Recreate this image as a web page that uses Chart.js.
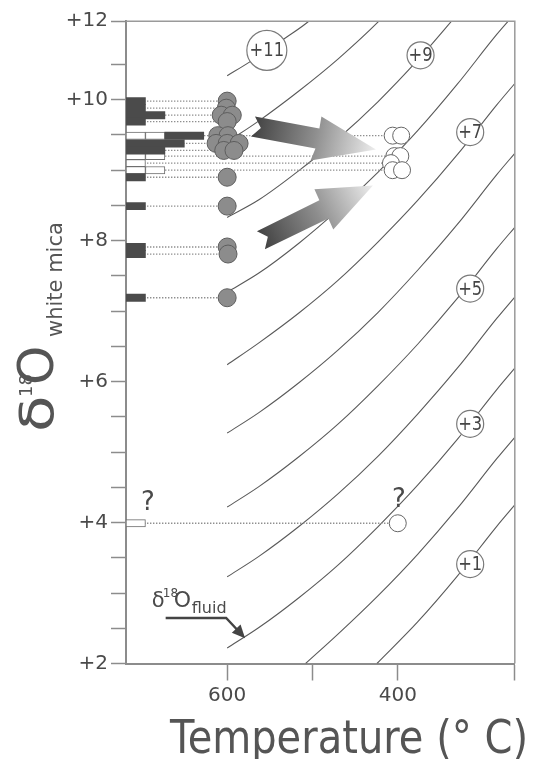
<!DOCTYPE html>
<html>
<head>
<meta charset="utf-8">
<script src="https://cdn.jsdelivr.net/npm/chart.js@4.4.1/dist/chart.umd.min.js"></script>
<style>
html,body{margin:0;padding:0;background:#fff;}
canvas{display:block;}
</style>
</head>
<body>
<canvas id="c" width="536" height="759"></canvas>
<script>
// ---------- axes ----------
const T_MAX = 718.6, T_MIN = 262.8;      // temperature (°C), reversed axis
const D_MIN = 2, D_TOP = 11.114;         // δ18O white mica
const xTickValues = [600, 500, 400, 262.8];
const xTickLabels = ['600', '', '400', ''];
const yTickValues = [2, 2.5, 3, 3.5, 4, 4.5, 5, 5.5, 6, 6.5, 7, 7.5, 8, 8.5, 9, 9.5, 10, 10.5, 11.114];
const yTickLabels = ['+2', '', '', '', '+4', '', '', '', '+6', '', '', '', '+8', '', '', '', '+10', '', '+12'];

// ---------- histogram (bins of δ18O, counts) ----------
const binD      = [9.98, 9.88, 9.78, 9.69, 9.49, 9.38, 9.28, 9.20, 9.10, 9.00, 8.90, 8.49, 7.91, 7.81, 7.19, 3.99];
const darkCount = [1, 1, 2, 1, 2, 3, 2, 0, 0, 0, 1, 1, 1, 1, 1, 0];
const whiteCount= [0, 0, 0, 0, 2, 0, 0, 2, 1, 2, 0, 0, 0, 0, 0, 1];
const COUNT_MAX = 20;
const GRAY_T = 600, WHITE_T = 400;

// ---------- samples ----------
const grayT = [600, 601, 607, 594, 600, 611, 599, 613, 600, 586, 604, 592, 600, 600, 600, 599, 600];
const grayD = [9.98, 9.88, 9.78, 9.78, 9.69, 9.49, 9.49, 9.38, 9.38, 9.38, 9.28, 9.28, 8.90, 8.49, 7.91, 7.81, 7.19];
const whiteT = [406, 396, 404, 397, 408, 406, 395, 400];
const whiteD = [9.49, 9.49, 9.20, 9.20, 9.10, 9.00, 9.00, 3.99];

// ---------- δ18O fluid isopleths ----------
const c1T = [424.4, 376.7, 330.2, 283.7, 262.8];
const c1D = [2.0, 2.59, 3.24, 3.95, 4.25];
const c2T = [508, 469.8, 423.3, 376.7, 330.2, 283.7, 262.8];
const c2D = [2.0, 2.42, 2.96, 3.55, 4.20, 4.91, 5.21];
const gridT = [600, 562.8, 516.3, 469.8, 423.3, 376.7, 330.2, 283.7, 262.8];
const c3D = [2.22, 2.51, 2.93, 3.40, 3.94, 4.53, 5.18, 5.89, 6.19];
const c4D = [3.23, 3.52, 3.94, 4.41, 4.94, 5.54, 6.19, 6.90, 7.20];
const c5D = [4.22, 4.51, 4.93, 5.40, 5.94, 6.53, 7.18, 7.89, 8.19];
const c6D = [5.27, 5.56, 5.98, 6.45, 6.98, 7.58, 8.23, 8.94, 9.24];
const c7D = [6.24, 6.55, 6.97, 7.44, 7.98, 8.57, 9.22, 9.93, 10.23];
const c8D = [7.27, 7.54, 7.96, 8.44, 8.97, 9.56, 10.22, 10.93, 11.22];
const c9T = [600, 562.8, 516.3, 469.8, 423.3, 376.7, 330.2];
const c9D = [8.33, 8.58, 8.99, 9.45, 9.97, 10.56, 11.21];
const c10T = [600, 562.8, 516.3, 469.8, 423.3, 376.7];
const c10D = [9.40, 9.70, 10.12, 10.58, 11.10, 11.70];
const c11T = [600, 574.4, 531.4, 504.7, 480];
const c11D = [10.34, 10.53, 10.88, 11.11, 11.40];

// isopleth labels
const labelText = ['+11', '+9', '+7', '+5', '+3', '+1'];
const labelT = [553.5, 373.3, 315.1, 315.1, 315.1, 315.1];
const labelD = [10.70, 10.63, 9.54, 7.32, 5.40, 3.41];

// ---------- annotations (data coordinates) ----------
const upperArrowT = [567.4, 560.5, 572.1, 496.5, 502.3, 425.6, 489.5, 491.9];
const upperArrowD = [9.763, 9.600, 9.479, 9.309, 9.139, 9.295, 9.763, 9.593];
const lowerArrowT = [565.1, 552.3, 555.8, 481.4, 475.6, 429.1, 497.7, 491.9];
const lowerArrowD = [8.132, 8.054, 7.877, 8.316, 8.160, 8.784, 8.728, 8.572];
const questionT = [693, 398.8];
const questionD = [4.28, 4.32];
const fluidLabelT = 687.2, fluidLabelD = 2.80;
const fluidArrowT = [672.1, 601.2, 581.4];
const fluidArrowD = [2.645, 2.645, 2.39];

// ---------- build datasets ----------
const pts = (ts, ds) => ts.map((t, i) => ({x: t, y: ds[i]}));
const contourStyle = {
  type: 'line', xAxisID: 'x', yAxisID: 'y', borderColor: '#5a5a5a', borderWidth: 1.1,
  pointRadius: 0, fill: false, cubicInterpolationMode: 'monotone', order: 10
};
const contours = [
  pts(c1T, c1D), pts(c2T, c2D), pts(gridT, c3D), pts(gridT, c4D), pts(gridT, c5D),
  pts(gridT, c6D), pts(gridT, c7D), pts(gridT, c8D), pts(c9T, c9D), pts(c10T, c10D), pts(c11T, c11D)
].map((data, i) => Object.assign({label: 'fluid' + (i + 1), data}, contourStyle));

const guideData = [];
binD.forEach((d, i) => {
  guideData.push({x: T_MAX, y: d});
  guideData.push({x: whiteCount[i] > 0 ? WHITE_T : GRAY_T, y: d});
  guideData.push({x: null, y: null});
});

const darkBars = [];
binD.forEach((d, i) => { if (darkCount[i] > 0) darkBars.push({x: [whiteCount[i], whiteCount[i] + darkCount[i]], y: d}); });
const whiteBars = [];
binD.forEach((d, i) => { for (let k = 0; k < whiteCount[i]; k++) whiteBars.push({x: [k, k + 1], y: d}); });

const datasets = [
  { label: 'labels', type: 'scatter', xAxisID: 'x', yAxisID: 'y', data: pts(labelT, labelD), order: 1,
    pointRadius: c => c.dataIndex === 0 ? 20 : 13.5, pointBackgroundColor: '#ffffff',
    pointBorderColor: '#7a7a7a', pointBorderWidth: 1.2 },
  { label: 'white', type: 'scatter', xAxisID: 'x', yAxisID: 'y', data: pts(whiteT, whiteD), order: 2,
    pointRadius: 8.5, pointBackgroundColor: '#ffffff', pointBorderColor: '#666666', pointBorderWidth: 1 },
  { label: 'gray', type: 'scatter', xAxisID: 'x', yAxisID: 'y', data: pts(grayT, grayD), order: 3,
    pointRadius: 9, pointBackgroundColor: '#8c8c8c', pointBorderColor: '#5e5e5e', pointBorderWidth: 1 },
  { label: 'histDark', type: 'bar', indexAxis: 'y', xAxisID: 'xc', yAxisID: 'y', data: darkBars, order: 7,
    backgroundColor: '#4b4b4b', borderWidth: 0, barThickness: 7.3, grouped: false },
  { label: 'histWhite', type: 'bar', indexAxis: 'y', xAxisID: 'xc', yAxisID: 'y', data: whiteBars, order: 8,
    backgroundColor: '#ffffff', borderColor: '#6e6e6e', borderWidth: 1, borderSkipped: false,
    barThickness: 7.3, grouped: false },
  { label: 'guides', type: 'line', xAxisID: 'x', yAxisID: 'y', data: guideData, order: 9,
    borderColor: '#8f8f8f', borderWidth: 1.3, borderDash: [1.4, 1.6], pointRadius: 0, spanGaps: false, tension: 0 },
  ...contours
];

// ---------- decorations plugin ----------
const PX = (ch, t) => ch.scales.x.getPixelForValue(t);
const PY = (ch, d) => ch.scales.y.getPixelForValue(d);
const FONT = "'DejaVu Sans'";

const decor = {
  id: 'decor',
  afterDatasetDraw(chart, args) {
    if (chart.data.datasets[args.index].label !== 'guides') return;
    const ctx = chart.ctx;
    ctx.save();
    [[upperArrowT, upperArrowD], [lowerArrowT, lowerArrowD]].forEach(([ts, ds]) => {
      const p = ts.map((t, i) => [PX(chart, t), PY(chart, ds[i])]);
      const tail = [(p[0][0] + p[2][0]) / 2, (p[0][1] + p[2][1]) / 2];
      const tip = p[5];
      const g = ctx.createLinearGradient(tail[0], tail[1], tip[0], tip[1]);
      g.addColorStop(0, '#424242');
      g.addColorStop(0.5, '#8e8e8e');
      g.addColorStop(1, '#ededed');
      ctx.beginPath();
      p.forEach((q, i) => i ? ctx.lineTo(q[0], q[1]) : ctx.moveTo(q[0], q[1]));
      ctx.closePath();
      ctx.fillStyle = g;
      ctx.fill();
    });
    ctx.restore();
  },
  afterDatasetsDraw(chart) {
    const ctx = chart.ctx;
    const ca = chart.chartArea;
    ctx.save();
    // frame top/right
    ctx.strokeStyle = '#9a9a9a';
    ctx.lineWidth = 1.5;
    ctx.beginPath();
    ctx.moveTo(ca.left, ca.top); ctx.lineTo(ca.right, ca.top); ctx.lineTo(ca.right, ca.bottom);
    ctx.stroke();

    // isopleth labels
    const lm = chart.getDatasetMeta(chart.data.datasets.findIndex(d => d.label === 'labels'));
    ctx.fillStyle = '#454545';
    ctx.textAlign = 'center';
    ctx.textBaseline = 'middle';
    ctx.font = '19px ' + FONT;
    lm.data.forEach((el, i) => {
      ctx.save();
      ctx.translate(el.x, el.y + 1);
      ctx.scale(0.86, 1);
      ctx.fillText(labelText[i], 0, 0);
      ctx.restore();
    });

    // question marks
    ctx.font = '26px ' + FONT;
    ctx.fillStyle = '#4a4a4a';
    questionT.forEach((t, i) => ctx.fillText('?', PX(chart, t), PY(chart, questionD[i])));

    // δ18O fluid label + arrow
    const ax = PX(chart, fluidLabelT), ay = PY(chart, fluidLabelD);
    ctx.textAlign = 'left';
    ctx.textBaseline = 'alphabetic';
    ctx.fillStyle = '#4a4a4a';
    ctx.font = '21px ' + FONT; ctx.fillText('δ', ax - 1, ay);
    ctx.font = '12px ' + FONT; ctx.fillText('18', ax + 10, ay - 10);
    ctx.font = '22px ' + FONT; ctx.fillText('O', ax + 21, ay);
    ctx.font = '16px ' + FONT; ctx.fillText('fluid', ax + 39, ay + 6);
    const ap = fluidArrowT.map((t, i) => [PX(chart, t), PY(chart, fluidArrowD[i])]);
    ctx.strokeStyle = '#444';
    ctx.lineWidth = 2.4;
    ctx.beginPath();
    ctx.moveTo(ap[0][0], ap[0][1]); ctx.lineTo(ap[1][0], ap[1][1]); ctx.lineTo(ap[2][0], ap[2][1]);
    ctx.stroke();
    const ang = Math.atan2(ap[2][1] - ap[1][1], ap[2][0] - ap[1][0]);
    ctx.fillStyle = '#444';
    ctx.beginPath();
    ctx.moveTo(ap[2][0] + 3 * Math.cos(ang), ap[2][1] + 3 * Math.sin(ang));
    ctx.lineTo(ap[2][0] - 10 * Math.cos(ang) + 6 * Math.sin(ang), ap[2][1] - 10 * Math.sin(ang) - 6 * Math.cos(ang));
    ctx.lineTo(ap[2][0] - 10 * Math.cos(ang) - 6 * Math.sin(ang), ap[2][1] - 10 * Math.sin(ang) + 6 * Math.cos(ang));
    ctx.closePath();
    ctx.fill();

    // y-axis title: δ18O white mica
    ctx.save();
    ctx.translate(53, 432);
    ctx.rotate(-Math.PI / 2);
    ctx.fillStyle = '#555555';
    ctx.textAlign = 'left';
    ctx.textBaseline = 'alphabetic';
    ctx.save(); ctx.scale(1.3, 1); ctx.font = '46px ' + FONT; ctx.fillText('δ', 0, 0); ctx.restore();
    ctx.font = '18px ' + FONT; ctx.fillText('18', 35, -21);
    ctx.font = '50px ' + FONT; ctx.fillText('O', 47, 0);
    ctx.font = '21px ' + FONT; ctx.fillText('white mica', 95, 9);
    ctx.restore();

    // x-axis title
    ctx.font = '47px ' + FONT;
    ctx.fillStyle = '#555555';
    const xt = 'Temperature (° C)';
    const w = ctx.measureText(xt).width;
    ctx.save();
    ctx.translate(170, 753);
    ctx.scale(358 / w, 1);
    ctx.fillText(xt, 0, 0);
    ctx.restore();

    ctx.restore();
  }
};

Chart.defaults.font.family = FONT;

new Chart(document.getElementById('c'), {
  type: 'scatter',
  data: { datasets },
  options: {
    responsive: false,
    animation: false,
    devicePixelRatio: 1,
    layout: { padding: { left: 0, right: 18, top: 20.7, bottom: 0 } },
    plugins: { legend: { display: false }, tooltip: { enabled: false } },
    scales: {
      x: {
        type: 'linear', position: 'bottom', reverse: true, min: T_MIN, max: T_MAX, offset: false,
        afterBuildTicks: s => { s.ticks = xTickValues.map(v => ({value: v})); },
        afterFit: s => { s.height = 95.5; },
        ticks: { autoSkip: false, maxRotation: 0, padding: 3, color: '#4a4a4a',
                 font: { size: 20 }, callback: (v, i) => xTickLabels[i] },
        grid: { offset: false, drawOnChartArea: false, drawTicks: true, tickLength: 17, tickColor: '#8c8c8c', tickWidth: 1.5 },
        border: { display: true, color: '#8c8c8c', width: 2 }
      },
      xc: { type: 'linear', display: false, min: 0, max: COUNT_MAX, position: 'bottom', offset: false },
      y: {
        type: 'linear', position: 'left', min: D_MIN, max: D_TOP, offset: false,
        afterBuildTicks: s => { s.ticks = yTickValues.map(v => ({value: v})); },
        afterFit: s => { s.width = 126; },
        ticks: { autoSkip: false, padding: 3, color: '#4a4a4a', font: { size: 20 },
                 callback: (v, i) => yTickLabels[i] },
        grid: { offset: false, drawOnChartArea: false, drawTicks: true, tickLength: 15, tickColor: '#8c8c8c', tickWidth: 1.5 },
        border: { display: true, color: '#8c8c8c', width: 2 }
      }
    }
  },
  plugins: [decor]
});
</script>
</body>
</html>
